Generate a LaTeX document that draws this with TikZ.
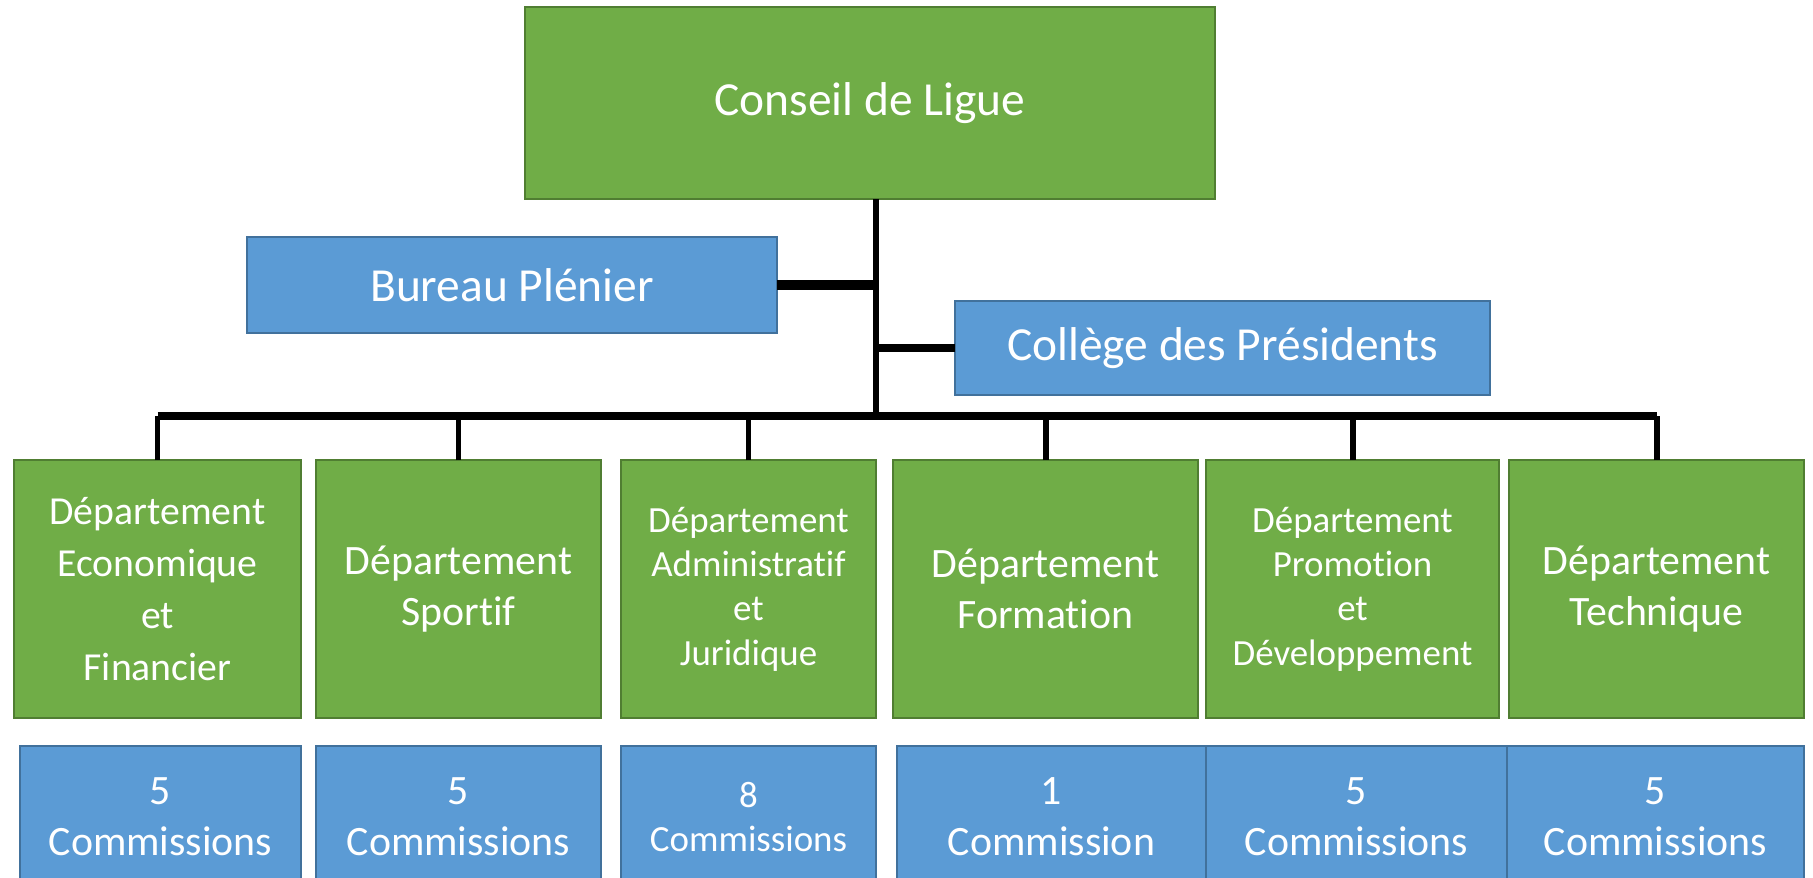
\documentclass[tikz,border=0pt]{standalone}
\usepackage{fontspec}
\setmainfont{Carlito}[Ligatures=NoCommon]
\definecolor{vert}{HTML}{70AD47}
\definecolor{vertbord}{HTML}{507E32}
\definecolor{bleu}{HTML}{5B9BD5}
\definecolor{bleubord}{HTML}{41719C}

\begin{document}
\begin{tikzpicture}[
    vertbox/.style={draw=vertbord, fill=vert, line width=0.7pt, text=white, align=center, inner sep=0pt, outer sep=0pt},
    bleubox/.style={draw=bleubord, fill=bleu, line width=0.7pt, text=white, align=center, inner sep=0pt, outer sep=0pt},
    grand/.style={font=\fontsize{13.5}{16}\selectfont},
    moyen/.style={font=\fontsize{11.9}{14.6}\selectfont},
    petit/.style={font=\fontsize{10.5}{12.6}\selectfont},
    lien/.style={line width=1.5pt}
]
    \useasboundingbox (0,0) rectangle (18.13,-8.77);
    \clip (0,0) rectangle (18.13,-8.77);

    % haut
    \node[vertbox, grand, minimum width=6.9cm, minimum height=1.92cm] (conseil) at (8.70,-1.03) {Conseil de Ligue};
    \node[bleubox, grand, minimum width=5.3cm, minimum height=0.96cm] (bureau) at (5.12,-2.85) {Bureau Plénier};
    \node[bleubox, grand, minimum width=5.35cm, minimum height=0.94cm] (college) at (12.225,-3.48) {Collège des Présidents};

    % departements
    \node[vertbox, font=\fontsize{11.3}{14.8}\selectfont, minimum width=2.87cm, minimum height=2.58cm] (dep1) at (1.575,-5.89) {Département\\Economique\\et\\Financier};
    \node[vertbox, moyen, minimum width=2.85cm, minimum height=2.58cm] (dep2) at (4.585,-5.89) {Département\\Sportif};
    \node[vertbox, petit, minimum width=2.55cm, minimum height=2.58cm] (dep3) at (7.485,-5.89) {Département\\Administratif\\et\\Juridique};
    \node[vertbox, moyen, minimum width=3.05cm, minimum height=2.58cm] (dep4) at (10.455,-5.89) {Département\\Formation};
    \node[vertbox, petit, minimum width=2.93cm, minimum height=2.58cm] (dep5) at (13.525,-5.89) {Département\\Promotion\\et\\Développement};
    \node[vertbox, moyen, minimum width=2.95cm, minimum height=2.58cm] (dep6) at (16.565,-5.89) {Département\\Technique};

    % commissions
    \node[bleubox, moyen, minimum width=2.81cm, minimum height=1.42cm] (com1) at (1.605,-8.17) {5\\Commissions};
    \node[bleubox, moyen, minimum width=2.85cm, minimum height=1.42cm] (com2) at (4.585,-8.17) {5\\Commissions};
    \node[bleubox, petit, minimum width=2.55cm, minimum height=1.42cm] (com3) at (7.485,-8.17) {8\\Commissions};
    \node[bleubox, moyen, minimum width=3.09cm, minimum height=1.42cm] (com4) at (10.515,-8.17) {1\\Commission};
    \node[bleubox, moyen, minimum width=3.01cm, minimum height=1.42cm] (com5) at (13.565,-8.17) {5\\Commissions};
    \node[bleubox, moyen, minimum width=2.97cm, minimum height=1.42cm] (com6) at (16.555,-8.17) {5\\Commissions};

    % liens
    \coordinate (bus) at (8.76,-4.16);
    \draw[lien] (conseil.south -| bus) -- (bus);
    \draw[line width=2.6pt] (bureau.east) -- (bureau.east -| bus);
    \draw[line width=2.3pt] (college.west) -- (college.west -| bus);
    \draw[line width=2pt] (dep1.north |- bus) -- (dep6.north |- bus);
    \foreach \d in {dep1,dep2,dep3,dep4,dep5,dep6}
        \draw[line width=1.7pt] (\d.north) -- (\d.north |- bus);
\end{tikzpicture}
\end{document}
